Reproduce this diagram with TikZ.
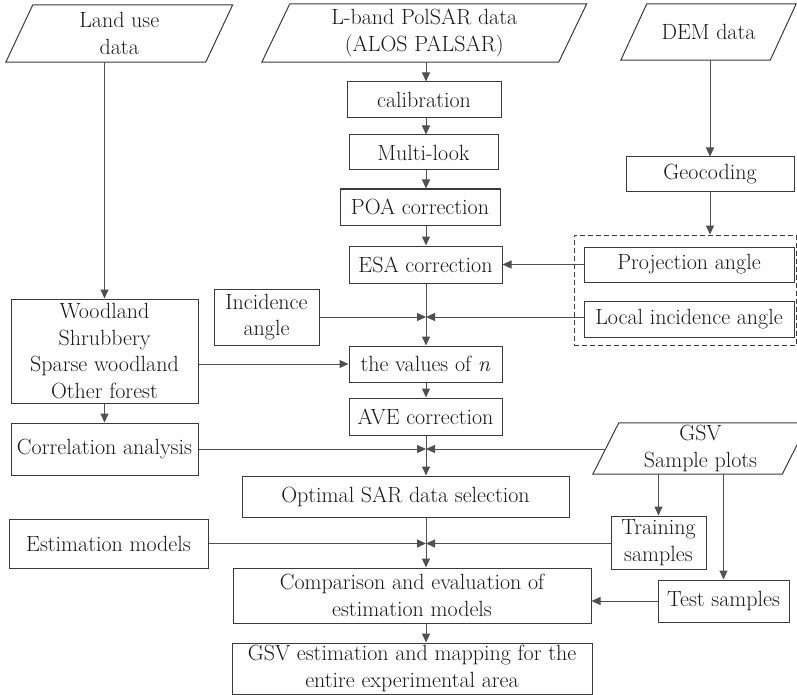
\documentclass[tikz,border=0pt]{standalone}
\usepackage{fontspec}
\usetikzlibrary{arrows.meta}
\definecolor{edgec}{HTML}{3A3A3A}
\definecolor{linec}{HTML}{505050}
% parallelogram outline around an (undrawn) io node: #1 node name, #2 half skew
\newcommand\ioframe[2]{%
  \draw[frame] ([xshift=#2pt]#1.north west) -- ([xshift=#2pt]#1.north east)
    -- ([xshift=-#2pt]#1.south east) -- ([xshift=-#2pt]#1.south west) -- cycle;}
\begin{document}
\begin{tikzpicture}[x=1pt,y=-1pt,
  every node/.style={font=\rmfamily\fontsize{22}{26.5}\selectfont, align=center, inner sep=0pt, text=black!90},
  box/.style={draw=edgec, line width=1pt, rectangle},
  io/.style={rectangle},
  frame/.style={draw=edgec, line width=1pt, line join=miter},
  group/.style={draw=edgec, line width=1pt, dashed, dash pattern=on 5pt off 3pt, rectangle},
  arr/.style={draw=linec, line width=1pt, -{Triangle[length=9pt,width=8pt]}}]
\useasboundingbox (0,0) rectangle (797,695);

% data sources
\node[io, minimum width=199.5pt, minimum height=57pt] (land) at (119.25,33.5) {Land use\\data};
\node[io, minimum width=296.5pt, minimum height=58pt] (sar) at (424.25,33) {L-band PolSAR data\\(ALOS PALSAR)};
\node[io, minimum width=149pt, minimum height=56pt] (dem) at (708.5,32) {DEM data};
\node[io, minimum width=189pt, minimum height=51pt] (gsv) at (700.5,448.5) {GSV\\Sample plots};
\ioframe{land}{13.5}
\ioframe{sar}{14}
\ioframe{dem}{13}
\ioframe{gsv}{13}

% processing chain
\node[box, minimum width=154pt, minimum height=36pt] (calib) at (424,100) {calibration};
\node[box, minimum width=149pt, minimum height=35pt] (multi) at (423.5,152.5) {Multi-look};
\node[box, minimum width=160pt, minimum height=36pt] (poa) at (420,207) {POA correction};
\node[box, minimum width=153pt, minimum height=37pt] (esa) at (425.5,264.5) {ESA correction};
\node[box, minimum width=105pt, minimum height=56pt] (inc) at (266.5,317) {Incidence\\angle};
\node[box, minimum width=153pt, minimum height=36pt] (nval) at (425.5,364) {the values of \textit{n}};
\node[box, minimum width=153pt, minimum height=37pt] (ave) at (425.5,416.5) {AVE correction};
\node[box, minimum width=187pt, minimum height=104pt] (wood) at (104.5,351) {Woodland\\Shrubbery\\Sparse woodland\\Other forest};
\node[box, minimum width=187pt, minimum height=52pt] (corr) at (104.5,449) {Correlation analysis};
\node[box, minimum width=327pt, minimum height=41pt] (opt) at (405.5,496.5) {Optimal SAR data selection};
\node[box, minimum width=199pt, minimum height=49pt] (est) at (108.5,543.5) {Estimation models};
\node[box, minimum width=358pt, minimum height=55pt] (comp) at (412,595.5) {Comparison and evaluation of\\estimation models};
\node[box, minimum width=360pt, minimum height=51pt] (map) at (412,668.5) {GSV estimation and mapping for the\\entire experimental area};

% terrain branch
\node[box, minimum width=168pt, minimum height=34pt] (geo) at (710,174) {Geocoding};
\node[group, minimum width=222.5pt, minimum height=110pt] (grp) at (685.25,290) {};
\node[box, minimum width=210pt, minimum height=35pt] (proj) at (689,264.5) {Projection angle};
\node[box, minimum width=210pt, minimum height=36pt] (local) at (689,319) {Local incidence angle};

% samples
\node[box, minimum width=95pt, minimum height=53pt] (train) at (658.5,542.5) {Training\\samples};
\node[box, minimum width=131pt, minimum height=42pt] (test) at (723.5,601) {Test samples};

% junction points on the main column
\coordinate (col) at (426,0);
\coordinate (j1) at (col |- inc.east);
\coordinate (j2) at (col |- corr.east);
\coordinate (j3) at (col |- est.east);

% main column
\draw[arr] (sar.south -| col) -- (calib.north -| col);
\draw[arr] (calib.south -| col) -- (multi.north -| col);
\draw[arr] (multi.south -| col) -- (poa.north -| col);
\draw[arr] (poa.south -| col) -- (esa.north -| col);
\draw[arr] (esa.south -| col) -- (nval.north -| col);
\draw[arr] (nval.south -| col) -- (ave.north -| col);
\draw[arr] (ave.south -| col) -- (opt.north -| col);
\draw[arr] (opt.south -| col) -- (comp.north -| col);
\draw[arr] (comp.south -| col) -- (map.north -| col);

% side inputs
\draw[arr] (inc.east) -- (j1);
\draw[arr] (local.west |- j1) -- (j1);
\draw[arr] (proj.west) -- (esa.east);
\draw[arr] (land.south -| wood.north) -- (wood.north);
\draw[arr] (wood.south) -- (corr.north);
\draw[arr] (wood.east |- nval.west) -- (nval.west);
\draw[arr] (corr.east) -- (j2);
\draw[arr] (gsv.west |- j2) -- (j2);
\draw[arr] (est.east) -- (j3);
\draw[arr] (train.west |- j3) -- (j3);
\draw[arr] (gsv.south -| train.north) -- (train.north);
\draw[arr] (gsv.south -| test.north) -- (test.north);
\draw[arr] (test.west) -- (test.west -| comp.east);
\draw[arr] (dem.south -| geo.north) -- (geo.north);
\draw[arr] (geo.south) -- (geo.south |- grp.north);
\end{tikzpicture}
\end{document}
